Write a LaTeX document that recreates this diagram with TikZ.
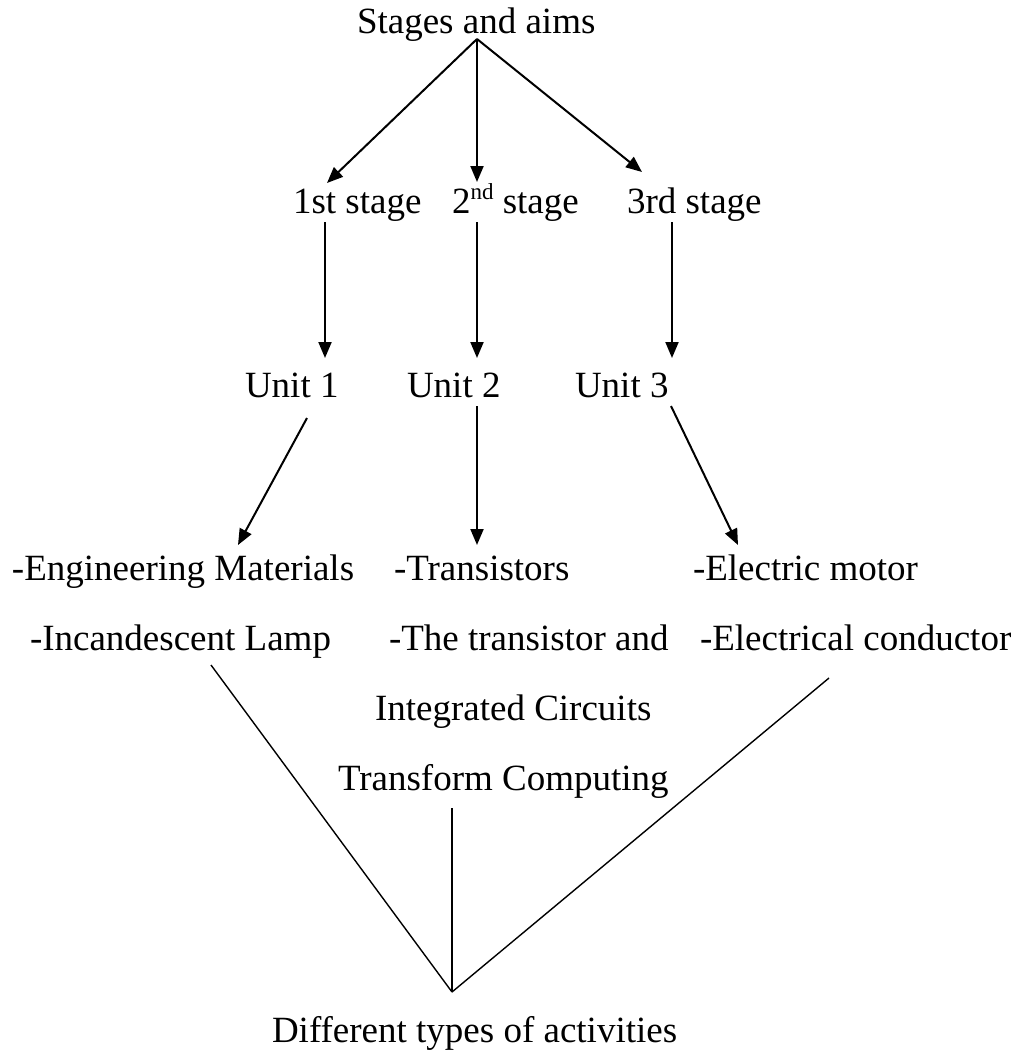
\documentclass[tikz,border=0pt]{standalone}
\usepackage{fontspec}
\setmainfont{Liberation Serif}
\usetikzlibrary{arrows.meta}
\newcommand{\supnd}[1]{\raisebox{14pt}{\fontsize{23}{23}\selectfont #1}}
\tikzset{
  lbl/.style={anchor=base west, inner sep=0pt, outer sep=0pt,
              font=\fontsize{37}{44}\selectfont},
  arr/.style={line width=2pt, -{Triangle[length=16pt,width=13pt]}},
  ln/.style={line width=1.4pt}
}
\begin{document}
\begin{tikzpicture}[x=1pt,y=-1pt]
\useasboundingbox (0,0) rectangle (1021,1052);
% text nodes (left x, baseline y in pixels)
\node[lbl] (stages) at (357,33) {Stages and aims};
\node[lbl] (s1) at (293,213) {1st stage};
\node[lbl] (s2) at (452,213) {2\supnd{nd} stage};
\node[lbl] (s3) at (627,213) {3rd stage};
\node[lbl] (u1) at (245,397) {Unit 1};
\node[lbl] (u2) at (407,397) {Unit 2};
\node[lbl] (u3) at (575,397) {Unit 3};
\node[lbl] (t1) at (12,580) {-Engineering Materials};
\node[lbl] (t2) at (394,580) {-Transistors};
\node[lbl] (t3) at (693,580) {-Electric motor};
\node[lbl] (l1) at (30,650) {-Incandescent Lamp};
\node[lbl] (l2) at (389,650) {-The transistor and};
\node[lbl] (l3) at (700,650) {-Electrical conductor};
\node[lbl] (ic) at (375,720) {Integrated Circuits};
\node[lbl] (tc) at (338,790) {Transform Computing};
\node[lbl] (dt) at (272,1042) {Different types of activities};
% connector end points
\coordinate (stagesOut) at (477,39);
\coordinate (s1In) at (327,183);
\coordinate (s2In) at (477,182);
\coordinate (s3In) at (642,172);
\coordinate (s1Out) at (325,222);
\coordinate (s2Out) at (477,222);
\coordinate (s3Out) at (672,222);
\coordinate (u1In) at (325,358);
\coordinate (u2In) at (477,358);
\coordinate (u3In) at (672,358);
\coordinate (u1Out) at (307,418);
\coordinate (u2Out) at (477,406);
\coordinate (u3Out) at (671,406);
\coordinate (t1In) at (238,545);
\coordinate (t2In) at (477,545);
\coordinate (t3In) at (738,545);
\coordinate (l1Out) at (211,665);
\coordinate (tcOut) at (452,808);
\coordinate (l3Out) at (829,678);
\coordinate (apex) at (452,992);
% arrows from the top
\draw[arr] (stagesOut) -- (s1In);
\draw[arr] (stagesOut) -- (s2In);
\draw[arr] (stagesOut) -- (s3In);
% stages to units
\draw[arr] (s1Out) -- (u1In);
\draw[arr] (s2Out) -- (u2In);
\draw[arr] (s3Out) -- (u3In);
% units to topics
\draw[arr] (u1Out) -- (t1In);
\draw[arr] (u2Out) -- (t2In);
\draw[arr] (u3Out) -- (t3In);
% lines to activities
\draw[ln] (l1Out) -- (apex);
\draw[ln] (tcOut) -- (apex);
\draw[ln] (l3Out) -- (apex);
\end{tikzpicture}
\end{document}
